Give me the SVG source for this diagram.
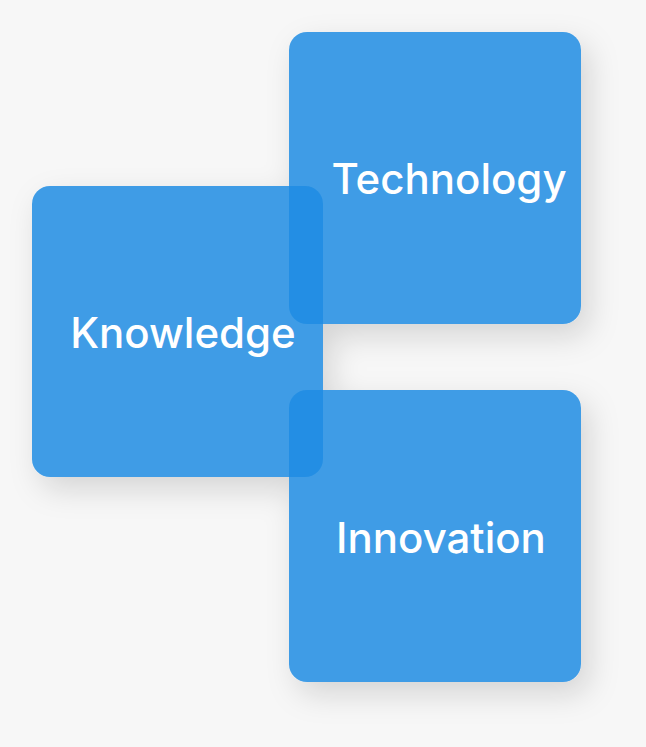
<svg xmlns="http://www.w3.org/2000/svg" width="646" height="747" viewBox="0 0 646 747">
<defs>
<filter id="sh" x="-30%" y="-30%" width="170%" height="170%">
<feDropShadow dx="8" dy="12" stdDeviation="15" flood-color="#000" flood-opacity="0.14"/>
</filter>
<style>
.box{fill:#1e8ce3;fill-opacity:0.85}
.lbl{font-family:Inter,"Open Sans","Liberation Sans",sans-serif;font-weight:500;font-size:42px;fill:#fff;text-anchor:middle}
</style>
</defs>
<rect width="646" height="747" fill="#f7f7f7"/>
<g id="shadows" filter="url(#sh)" fill="#f7f7f7">
<rect x="289" y="32" width="292" height="292" rx="18"/>
<rect x="32" y="186" width="291" height="291" rx="18"/>
<rect x="289" y="390" width="292" height="292" rx="18"/>
</g>
<g id="connectors"/>
<g id="technology">
<rect class="box" x="289" y="32" width="292" height="292" rx="18"/>
<text class="lbl" x="449" y="194">Technology</text>
</g>
<g id="knowledge">
<rect class="box" x="32" y="186" width="291" height="291" rx="18"/>
<text class="lbl" x="183" y="348">Knowledge</text>
</g>
<g id="innovation">
<rect class="box" x="289" y="390" width="292" height="292" rx="18"/>
<text class="lbl" x="441" y="553">Innovation</text>
</g>
</svg>
